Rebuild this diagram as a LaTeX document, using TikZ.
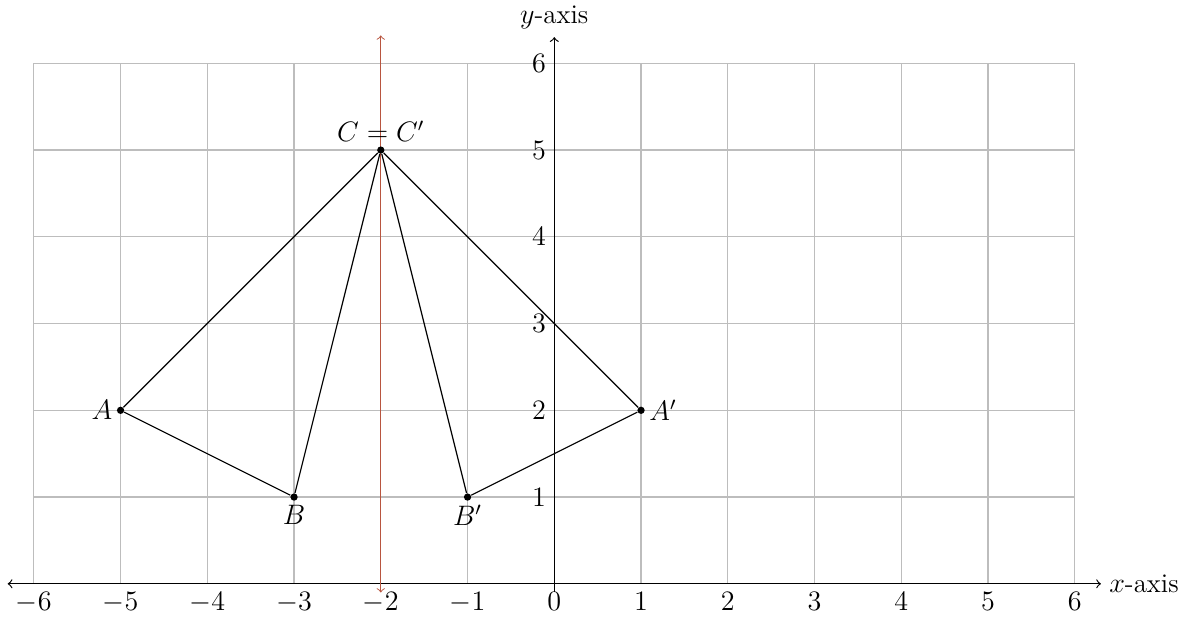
\documentclass[tikz,border=0pt]{standalone}
\usepackage{tikz}
\usepackage{xcolor}
\definecolor{gridGray}{HTML}{BDBDBD}
\definecolor{mirrorRed}{HTML}{B8553F}

\begin{document}
\begin{tikzpicture}[scale=1.3, every node/.style={font=\fontsize{11.5}{14}\selectfont}]
  \useasboundingbox (-6.39,-0.39) rectangle (7.19,6.73);
  \draw[gridGray, line width=0.5pt] (-6,0) grid (6,6);
  \coordinate (xl) at (-6.3,0);
  \coordinate (xr) at (6.3,0);
  \coordinate (yb) at (0,-0.1);
  \coordinate (yt) at (0,6.3);
  \coordinate (mb) at (-2,-0.1);
  \coordinate (mt) at (-2,6.32);
  \draw[<->, line width=0.5pt] (xl) -- (xr) node[right] (xlab) {$x$-axis};
  \draw[->, line width=0.5pt] (yb) -- (yt) node[above] (ylab) {$y$-axis};
  \draw[<->, mirrorRed, line width=0.4pt] (mb) -- (mt);
  \node[below] (xm6) at (-6,0) {$-6$};
  \node[below] (xm5) at (-5,0) {$-5$};
  \node[below] (xm4) at (-4,0) {$-4$};
  \node[below] (xm3) at (-3,0) {$-3$};
  \node[below] (xm2) at (-2,0) {$-2$};
  \node[below] (xm1) at (-1,0) {$-1$};
  \node[below] (x0) at (0,0) {$0$};
  \node[below] (x1) at (1,0) {$1$};
  \node[below] (x2) at (2,0) {$2$};
  \node[below] (x3) at (3,0) {$3$};
  \node[below] (x4) at (4,0) {$4$};
  \node[below] (x5) at (5,0) {$5$};
  \node[below] (x6) at (6,0) {$6$};
  \node[left] (y1) at (0,1) {$1$};
  \node[left] (y2) at (0,2) {$2$};
  \node[left] (y3) at (0,3) {$3$};
  \node[left] (y4) at (0,4) {$4$};
  \node[left] (y5) at (0,5) {$5$};
  \node[left] (y6) at (0,6) {$6$};
  \node[circle, fill, inner sep=1.1pt] (A) at (-5,2) {};
  \node[circle, fill, inner sep=1.1pt] (B) at (-3,1) {};
  \node[circle, fill, inner sep=1.1pt] (C) at (-2,5) {};
  \node[circle, fill, inner sep=1.1pt] (Ap) at (1,2) {};
  \node[circle, fill, inner sep=1.1pt] (Bp) at (-1,1) {};
  \node[left] (Alab) at (A) {$A$};
  \node[below] (Blab) at (B) {$B$};
  \node[above] (Clab) at (C) {$C = C'$};
  \node[right] (Aplab) at (Ap) {$A'$};
  \node[below] (Bplab) at (Bp) {$B'$};
  \draw[line width=0.5pt] (A) -- (B);
  \draw[line width=0.5pt] (B) -- (C);
  \draw[line width=0.5pt] (C) -- (A);
  \draw[line width=0.5pt] (Ap) -- (Bp);
  \draw[line width=0.5pt] (Bp) -- (C);
  \draw[line width=0.5pt] (C) -- (Ap);
\end{tikzpicture}
\end{document}
